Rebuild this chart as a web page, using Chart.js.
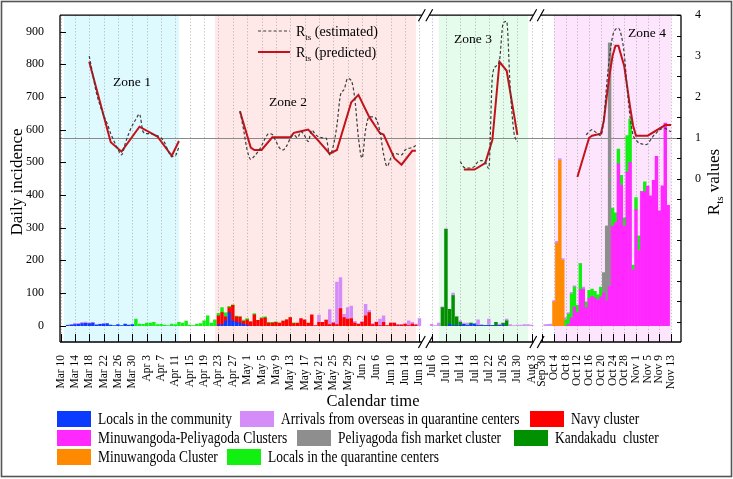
<!DOCTYPE html>
<html><head><meta charset="utf-8">
<script src="https://cdn.jsdelivr.net/npm/chart.js@4.4.0/dist/chart.umd.min.js"></script>
<style>
html,body{margin:0;padding:0;background:#fff;}
#wrap{position:relative;width:733px;height:479px;overflow:hidden;}
#c{position:absolute;left:0;top:0;}
.lg-box{position:absolute;width:34px;height:16px;}
.lg-txt{position:absolute;font-family:'Liberation Serif';font-size:16px;line-height:16px;color:#000;white-space:pre;transform:scaleX(0.84);transform-origin:0 50%;}
</style></head><body>
<div id="wrap"><canvas id="c" width="733" height="479"></canvas><div id="legend"></div></div>
<script>
// ================= DATA =================
const tickLabels = ['Mar 10','Mar 14','Mar 18','Mar 22','Mar 26','Mar 30','Apr 3','Apr 7','Apr 11','Apr 15','Apr 19','Apr 23','Apr 27','May 1','May 5','May 9','May 13','May 17','May 21','May 25','May 29','Jun 2','Jun 6','Jun 10','Jun 14','Jun 18','Jul 6','Jul 10','Jul 14','Jul 18','Jul 22','Jul 26','Jul 30','Aug 3','Sep 30','Oct 4','Oct 8','Oct 12','Oct 16','Oct 20','Oct 24','Oct 28','Nov 1','Nov 5','Nov 9','Nov 13'];
const leftTicks = [0,100,200,300,400,500,600,700,800,900];
const rightTicks = [0,1,2,3,4];
const zoneNames = ['Zone 1','Zone 2','Zone 3','Zone 4'];

// daily case counts, as runs: [first date, consecutive daily values]
const communityRuns = [['Mar 12',[1,2,3,4,6,7,6,8,2,4,5,6,2,0,3,0,5,2,3]], ['Apr 23',[2,3,14,39,14,11,8,3,2]], ['Jul 11',[5,0,0,0,4,0,4,5,0,0,0,0,0,0,0,2]]];
const navyRuns = [['Apr 23',[28,37,13,16,48,16,18,10,16,12,33,16,22,24,8,8,10,8,14,18,25,6,8,22,18,8,33,0,10,10,17,3,8,3,52,25,20,22,8,4,10,30,40,3,10,0,10,0,8,8,2,2,5,0,5,2]]];
const kandakaduRuns = [['Jul 9',[55,295,45,92,27,10,0,0,4,0,0,0,0,0,0,10,0,5,15]]];
const minuwangodaRuns = [['Oct 4',[72,252,505,200]]];
const minuPeliRuns = [['Oct 9',[5,25,58,40,110,112,55,84,90,85,78,88,100,75,120,305,315,495,430,305,470,500,170,355,230,410,410,427,397,445,518,351,428,620,368]]];
const fishMarketRuns = [['Oct 21',[62,230,745]]];
const quarantineLocalsRuns = [['Mar 31',[20,5,4,8,8,10,3,4,2,0,5,3,10,8,14,2,0,5,6,15,30,8,18,8,15,12,4,2,2,2,4,4,0,4,0,3,3,2,2,2,0,0,0,0,3]], ['Oct 8',[18,30,72,60,22,80,0,18,24,22,20,16,30,0,0,0,55,30,45,30,25,112,132,15,37,45,0,30]]];
const arrivalsRuns = [['Mar 12',[1,2,4,3,4,4,3,2,1,1,1]], ['May 21',[22,0,0,46,3,130,95,10,35,38,5,2,3,35,7,3,2,20,20,0,0,0,2,2,0,15,5,3,22]], ['Jul 6',[4,0,8,3,2,0,8,0,5,4,8,0,0,18,3,0,20,0,0,5,2,5,3,0,2,2,3,3,2]], ['Oct 1',[3,4,5,5,6,6,5,7,5,5,4,0,0,6]]];

// Rts (estimated), daily, per zone
const rEstimatedRuns = [
  ['Mar 18',[3.0,2.55,2.1,1.8,1.55,1.35,1.1,0.9,0.72,0.58,0.85,1.1,1.3,1.45,1.58,1.15,1.1,1.1,1.08,1.05,1.0,0.88,0.68,0.54,0.56,0.78]],
  ['Apr 29',[1.65,1.2,0.7,0.47,0.55,0.66,0.8,0.98,1.1,1.08,0.92,0.75,0.7,0.8,0.98,1.07,1.0,1.15,1.05,0.91,1.19,1.08,1.02,1.0,0.99,0.58,0.8,1.3,2.05,2.18,2.45,2.4,1.95,1.0,0.5,1.2,1.51,1.51,1.45,1.15,0.6,0.3,0.5,0.62,0.6,0.58,0.7,0.74,0.76,0.81]],
  ['Jul 14',[0.42,0.28,0.26,0.26,0.3,0.42,0.44,0.4,0.25,2.5,2.75,2.9,3.8,3.85,2.2,1.15,0.9]],
  ['Oct 15',[1.07,1.15,1.2,1.15,1.1,1.05,1.45,2.3,3.0,3.48,3.65,3.68,3.5,3.05,2.2,1.5,1.07,0.95,0.87,0.85,0.83,0.85,0.95,1.05,1.12,1.19,1.22,1.23,1.18,1.15]]
];
// Rts (predicted), knots per zone
const rPredictedZones = [
  [['Mar 18',2.86],['Mar 24',0.89],['Mar 27',0.66],['Apr 1',1.27],['Apr 6',1.03],['Apr 10',0.56],['Apr 12',0.92]],
  [['Apr 29',1.65],['Apr 30',1.35],['May 2',0.76],['May 3',0.7],['May 5',0.7],['May 8',1.01],['May 13',1.01],['May 14',1.12],['May 16',1.16],['May 18',1.2],['May 21',0.91],['May 24',0.61],['May 26',0.7],['May 30',1.87],['Jun 1',2.05],['Jun 4',1.51],['Jun 7',1.11],['Jun 8',1.08],['Jun 11',0.5],['Jun 13',0.34],['Jun 16',0.68],['Jun 17',0.68]],
  [['Jul 15',0.22],['Jul 18',0.22],['Jul 21',0.38],['Jul 23',0.95],['Jul 25',2.86],['Jul 27',2.64],['Jul 30',1.07]],
  [['Oct 12',0.04],['Oct 16',1.0],['Oct 17',1.05],['Oct 20',1.1],['Oct 21',1.4],['Oct 22',2.0],['Oct 23',2.55],['Oct 24',3.0],['Oct 25',3.25],['Oct 26',3.25],['Oct 27',3.0],['Oct 28',2.75],['Oct 29',2.25],['Oct 30',1.75],['Oct 31',1.3],['Nov 1',1.05],['Nov 5',1.05],['Nov 11',1.31],['Nov 13',1.31]]
];

// ================= HELPERS =================
const MONTH = {Mar:2,Apr:3,May:4,Jun:5,Jul:6,Aug:7,Sep:8,Oct:9,Nov:10};
const DAY0 = Date.UTC(2020,2,10);
function dayIndex(lbl){ const [m,d] = lbl.split(' '); return Math.round((Date.UTC(2020,MONTH[m],+d)-DAY0)/864e5); }
// broken calendar axis: three segments with their own offsets/compression
function axisPos(d){
  if (d < 110) return d;
  if (d < 180) return 103.4 + (d-118)*0.995;
  return 137.47 + (d-208)*0.816;
}
function runsToBars(runs){ const p=[]; runs.forEach(([s,vals])=>{ const d0=dayIndex(s); vals.forEach((v,i)=>p.push({x:axisPos(d0+i), y:v})); }); return p; }
function runsToLine(runs){ const p=[]; runs.forEach(([s,vals],k)=>{ const d0=dayIndex(s); if(k) p.push({x:axisPos(d0)-0.3, y:null}); vals.forEach((v,i)=>p.push({x:axisPos(d0+i), y:v})); }); return p; }
function zonesToLine(zones){ const p=[]; zones.forEach((z,k)=>{ if(k) p.push({x:axisPos(dayIndex(z[0][0]))-0.3, y:null}); z.forEach(([s,v])=>p.push({x:axisPos(dayIndex(s)), y:v})); }); return p; }

const barSeries = [
  ['Locals in the community', communityRuns, '#0b3bff'],
  ['Navy cluster', navyRuns, '#ff0000'],
  ['Kandakadu  cluster', kandakaduRuns, '#009000'],
  ['Minuwangoda Cluster', minuwangodaRuns, '#ff8a00'],
  ['Minuwangoda-Peliyagoda Clusters', minuPeliRuns, '#ff28ff'],
  ['Peliyagoda fish market cluster', fishMarketRuns, '#8e8e8e'],
  ['Locals in the quarantine centers', quarantineLocalsRuns, '#12f012'],
  ['Arrivals from overseas in quarantine centers', arrivalsRuns, '#d48cf8'],
];
const datasets = barSeries.map(([label, runs, color]) => ({
  type:'bar', label, data: runsToBars(runs), backgroundColor: color, borderWidth:0,
  barThickness: 2.8, stack:'cases', yAxisID:'y', order:1
}));
datasets.push({ type:'line', label:'Rts (estimated)', data: runsToLine(rEstimatedRuns), yAxisID:'y2',
  borderColor:'#3c3c3c', borderWidth:1.2, borderDash:[3,2.2], pointRadius:0, cubicInterpolationMode:'monotone', spanGaps:false, order:0 });
datasets.push({ type:'line', label:'Rts (predicted)', data: zonesToLine(rPredictedZones), yAxisID:'y2',
  borderColor:'#c4121a', borderWidth:2, pointRadius:0, tension:0, spanGaps:false, order:0 });

// ================= STYLE / LAYOUT =================
const FONT = '"Liberation Serif"';
const zoneStyle = [
  {from:'Mar 11', to:'Apr 12', fill:'rgb(222,250,254)', lx:132, ly:82},
  {from:'Apr 22', to:'Jun 17', fill:'rgb(255,232,232)', lx:288, ly:102},
  {from:'Jul 8',  to:'Aug 2',  fill:'rgb(229,251,236)', lx:473, ly:39},
  {from:'Oct 4',  to:'Nov 13', fill:'rgb(253,229,253)', lx:647, ly:33},
];

function rtsText(ctx, x, y, rest, size){
  ctx.font = size+'px '+FONT; ctx.fillText('R', x, y);
  let w = ctx.measureText('R').width;
  const s = Math.round(size*0.62);
  ctx.font = s+'px '+FONT; ctx.fillText('ts', x+w, y+size*0.27);
  w += ctx.measureText('ts').width;
  ctx.font = size+'px '+FONT; ctx.fillText(rest, x+w, y);
  return w + ctx.measureText(rest).width;
}
function rtsWidth(ctx, rest, size){
  ctx.font = size+'px '+FONT; let w = ctx.measureText('R').width + ctx.measureText(rest).width;
  ctx.font = Math.round(size*0.62)+'px '+FONT; return w + ctx.measureText('ts').width;
}

const decor = {
  id:'decor',
  beforeDraw(chart){
    const {ctx, chartArea:a, scales:{x}} = chart;
    ctx.save();
    ctx.fillStyle='#fff'; ctx.fillRect(0,0,chart.width,chart.height);
    zoneStyle.forEach(z=>{
      const x1 = x.getPixelForValue(axisPos(dayIndex(z.from)));
      const x2 = x.getPixelForValue(axisPos(dayIndex(z.to)));
      ctx.fillStyle = z.fill; ctx.fillRect(x1, a.top, x2-x1, a.bottom-a.top);
    });
    ctx.strokeStyle='rgba(150,150,150,0.75)'; ctx.lineWidth=0.8; ctx.setLineDash([1.2,2]);
    tickLabels.forEach(l=>{
      const px = Math.round(x.getPixelForValue(axisPos(dayIndex(l))))+0.5;
      ctx.beginPath(); ctx.moveTo(px, a.top); ctx.lineTo(px, a.bottom); ctx.stroke();
    });
    ctx.restore();
  },
  beforeDatasetsDraw(chart){
    const {ctx, chartArea:a, scales:{y2}} = chart;
    const py = Math.round(y2.getPixelForValue(1))+0.5;
    ctx.save(); ctx.strokeStyle='#8a8a8a'; ctx.lineWidth=1.1;
    ctx.beginPath(); ctx.moveTo(a.left, py); ctx.lineTo(a.right, py); ctx.stroke(); ctx.restore();
  },
  afterDraw(chart){
    const {ctx, chartArea:a, scales:{x, y, y2}} = chart;
    const px = l => x.getPixelForValue(axisPos(dayIndex(l)));
    const b1 = (px('Jun 18')+px('Jul 6'))/2, b2 = (px('Aug 3')+px('Sep 30'))/2;
    ctx.save();
    ctx.strokeStyle='#000'; ctx.lineWidth=1.3; ctx.setLineDash([]);
    // frame with breaks
    ctx.beginPath();
    ctx.moveTo(a.left, a.top); ctx.lineTo(a.left, a.bottom);
    ctx.moveTo(a.right, a.top); ctx.lineTo(a.right, a.bottom);
    [a.top, a.bottom].forEach(yy=>{
      ctx.moveTo(a.left, yy); ctx.lineTo(b1-3.7, yy);
      ctx.moveTo(b1+3.7, yy); ctx.lineTo(b2-3.7, yy);
      ctx.moveTo(b2+3.7, yy); ctx.lineTo(a.right, yy);
    });
    ctx.stroke();
    // break marks
    ctx.lineWidth=1.2; ctx.beginPath();
    [b1,b2].forEach(b=>[a.top,a.bottom].forEach(yy=>[b-3.7,b+3.7].forEach(c=>{
      ctx.moveTo(c-3.4, yy+6); ctx.lineTo(c+3.4, yy-6);
    })));
    ctx.stroke();
    // tick marks (inside)
    ctx.lineWidth=1; ctx.beginPath();
    tickLabels.forEach(l=>{ const p=Math.round(px(l))+0.5; ctx.moveTo(p, a.bottom); ctx.lineTo(p, a.bottom-8); });
    leftTicks.forEach(v=>{ const p=Math.round(y.getPixelForValue(v))+0.5; ctx.moveTo(a.left, p); ctx.lineTo(a.left+6, p); });
    for (let v=-3.5; v<=4; v+=0.5){ const p=Math.round(y2.getPixelForValue(v))+0.5; ctx.moveTo(a.right, p); ctx.lineTo(a.right-4, p); }
    ctx.stroke();
    // zone labels
    ctx.fillStyle='#000'; ctx.textAlign='center'; ctx.textBaseline='middle';
    ctx.font='13.5px '+FONT;
    zoneStyle.forEach((z,i)=>ctx.fillText(zoneNames[i], z.lx, z.ly));
    // inner legend for Rts lines
    ctx.textAlign='left'; ctx.textBaseline='alphabetic';
    ctx.strokeStyle='#3c3c3c'; ctx.lineWidth=1.2; ctx.setLineDash([3,2.2]);
    ctx.beginPath(); ctx.moveTo(258,31); ctx.lineTo(290,31); ctx.stroke();
    ctx.setLineDash([]); ctx.strokeStyle='#c4121a'; ctx.lineWidth=2;
    ctx.beginPath(); ctx.moveTo(258,52); ctx.lineTo(290,52); ctx.stroke();
    rtsText(ctx, 296, 36, ' (estimated)', 14);
    rtsText(ctx, 296, 57, ' (predicted)', 14);
    // axis titles
    ctx.save(); ctx.translate(18, 182); ctx.rotate(-Math.PI/2);
    ctx.textAlign='center'; ctx.textBaseline='middle'; ctx.font='17px '+FONT;
    ctx.fillText('Daily incidence', 0, 0); ctx.restore();
    ctx.save(); ctx.translate(713, 182); ctx.rotate(-Math.PI/2);
    ctx.textAlign='left'; ctx.textBaseline='alphabetic';
    const w = rtsWidth(ctx, ' values', 17);
    rtsText(ctx, -w/2, 5.5, ' values', 17); ctx.restore();
    ctx.textAlign='center'; ctx.textBaseline='middle'; ctx.font='16.5px '+FONT;
    ctx.fillText('Calendar time', 373, 402);
    // outer border
    ctx.strokeStyle='#555'; ctx.lineWidth=1.6; ctx.strokeRect(1.5,1.5,730,475);
    ctx.restore();
  }
};

Chart.defaults.font.family = 'Liberation Serif';
Chart.defaults.color = '#000';

new Chart(document.getElementById('c'), {
  type:'bar',
  data:{ datasets },
  plugins:[decor],
  options:{
    responsive:false, animation:false, events:[], devicePixelRatio:1,
    layout:{ padding:{ top:12, left:0, right:0, bottom:0 } },
    plugins:{ legend:{display:false}, tooltip:{enabled:false} },
    scales:{
      x:{ type:'linear', min:-0.14, max:172.86, offset:false, stacked:true,
          grid:{display:false}, border:{display:false},
          afterBuildTicks:s=>{ s.ticks = tickLabels.map(l=>({value:axisPos(dayIndex(l))})); },
          afterFit:s=>{ s.height = 137; },
          ticks:{ autoSkip:false, minRotation:90, maxRotation:90, padding:5, font:{size:11.5}, color:'#000',
                  callback:(v,i)=>tickLabels[i] } },
      y:{ position:'left', min:-50, max:950, stacked:true,
          grid:{display:false}, border:{display:false},
          afterBuildTicks:s=>{ s.ticks = leftTicks.map(v=>({value:v})); },
          afterFit:s=>{ s.width = 60; },
          ticks:{ padding:8, font:{size:12}, color:'#000' } },
      y2:{ position:'right', min:-4, max:4, stacked:false,
          grid:{display:false}, border:{display:false},
          afterBuildTicks:s=>{ s.ticks = rightTicks.map(v=>({value:v})); },
          afterFit:s=>{ s.width = 52; },
          ticks:{ padding:6, font:{size:12}, color:'#000' } }
    }
  }
});

// HTML legend built from the bar datasets
const legendOrder = ['Locals in the community','Arrivals from overseas in quarantine centers','Navy cluster','Minuwangoda-Peliyagoda Clusters','Peliyagoda fish market cluster','Kandakadu  cluster','Minuwangoda Cluster','Locals in the quarantine centers'];
const legendSlots = [[57,411],[240,411],[530,411],[57,430],[297,430],[514,430],[57,449],[227,449]];
const lg = document.getElementById('legend');
legendOrder.forEach((name,i)=>{
  const ds = datasets.find(d=>d.label===name);
  const [lx,ly] = legendSlots[i];
  const b = document.createElement('div'); b.className='lg-box';
  b.style.left=lx+'px'; b.style.top=ly+'px'; b.style.background=ds.backgroundColor;
  const t = document.createElement('div'); t.className='lg-txt';
  t.style.left=(lx+41)+'px'; t.style.top=ly+'px'; t.textContent=name;
  lg.appendChild(b); lg.appendChild(t);
});
</script>
</body></html>
